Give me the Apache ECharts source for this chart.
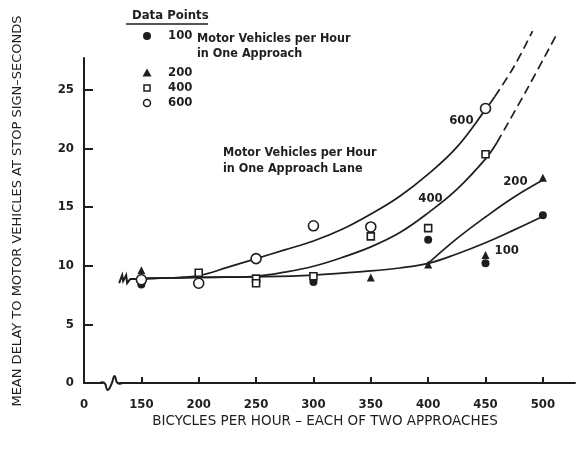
<!DOCTYPE html>
<html><head><meta charset="utf-8">
<script src="https://cdn.jsdelivr.net/npm/echarts@6/dist/echarts.min.js"></script>
<style>html,body{margin:0;padding:0;background:#fff}#c{width:578px;height:460px}</style>
</head><body><div id="c"></div>
<script>
// ---- data ----
const xTickValues = [150, 200, 250, 300, 350, 400, 450, 500];
const xLabelValues = [100, 150, 200, 250, 300, 350, 400, 450, 500]; // 100 is the broken-axis origin labelled "0"
const yTickValues = [0, 5, 10, 15, 20, 25];

const pts100 = [[150, 8.4], [300, 8.6], [400, 12.2], [450, 10.2], [500, 14.3]];
const pts200 = [[150, 9.6], [350, 9.0], [400, 10.1], [450, 10.9], [500, 17.5]];
const pts400 = [[200, 9.4], [250, 8.9], [250, 8.5], [300, 9.1], [350, 12.5], [400, 13.2], [450, 19.5]];
const pts600 = [[150, 8.8], [200, 8.5], [250, 10.6], [300, 13.4], [350, 13.3], [450, 23.4]];

const curve600X = [140, 150, 175, 200, 225, 250, 275, 300, 325, 350, 375, 400, 425, 450, 458];
const curve600Y = [8.85, 8.9, 8.95, 9.15, 9.85, 10.6, 11.35, 12.1, 13.1, 14.4, 15.9, 17.8, 20.1, 23.3, 24.4];
const dash600X = [458, 475, 491];
const dash600Y = [24.4, 27.0, 30.0];

const curve400X = [140, 150, 175, 200, 225, 250, 275, 300, 325, 350, 375, 400, 425, 450, 460];
const curve400Y = [8.85, 8.9, 8.95, 9.0, 9.02, 9.1, 9.45, 9.95, 10.7, 11.6, 12.8, 14.5, 16.5, 19.1, 20.5];
const dash400X = [460, 486, 513];
const dash400Y = [20.5, 25.0, 29.9];

const curve100X = [140, 150, 175, 200, 250, 300, 350, 375, 400, 425, 450, 475, 502];
const curve100Y = [8.85, 8.9, 8.95, 9.0, 9.05, 9.2, 9.55, 9.8, 10.2, 11.0, 11.95, 13.05, 14.3];

const curve200X = [400, 425, 450, 475, 502];
const curve200Y = [10.2, 12.3, 14.15, 15.85, 17.4];

const curveLabelNames = ['600', '400', '200', '100'];
const curveLabelX = [429, 402, 476, 468.5];
const curveLabelY = [22.35, 15.7, 17.15, 11.26];

const legendRows = ['100', '200', '400', '600'];

// ---- styles ----
const INK = '#1e1e1e';
const FONT = "'DejaVu Sans Condensed','DejaVu Sans',sans-serif";
const TFONT = "'DejaVu Sans',sans-serif";

const zip = (xs, ys) => xs.map((x, i) => [x, ys[i]]);

const chart = echarts.init(document.getElementById('c'), null, {renderer: 'canvas'});

function curve(xs, ys, dashed) {
  return {
    type: 'line', data: zip(xs, ys), smooth: 0.4, symbol: 'none', clip: false, silent: true, z: 2,
    lineStyle: {color: INK, width: 1.7, type: dashed ? [9, 5] : 'solid'}
  };
}
function pts(data, symbol, size, filled) {
  return {
    type: 'scatter', data: data, symbol: symbol, symbolSize: size, z: 5, silent: true,
    itemStyle: filled ? {color: INK, opacity: 1} : {color: '#fff', borderColor: INK, borderWidth: 1.6, opacity: 1}
  };
}

const option = {
  backgroundColor: '#fff',
  animation: false,
  grid: {left: 84, right: 3, top: 58, bottom: 77, containLabel: false, outerBoundsMode: 'none'},
  xAxis: {
    type: 'value', min: 100, max: 528,
    axisLine: {show: true, onZero: false, lineStyle: {color: INK, width: 2}},
    axisTick: {show: true, inside: true, length: 6, customValues: xTickValues, lineStyle: {color: INK, width: 2}},
    axisLabel: {customValues: xLabelValues, formatter: v => (v === 100 ? '0' : String(v)),
      color: INK, fontFamily: FONT, fontSize: 13, fontWeight: 'bold', margin: 15},
    splitLine: {show: false}
  },
  yAxis: {
    type: 'value', min: 0, max: 27.7,
    axisLine: {show: true, lineStyle: {color: INK, width: 2}},
    axisTick: {show: true, inside: true, length: 9, customValues: yTickValues, lineStyle: {color: INK, width: 2}},
    axisLabel: {customValues: yTickValues, color: INK, fontFamily: FONT, fontSize: 13, fontWeight: 'bold', margin: 10},
    splitLine: {show: false}
  },
  series: [
    curve(curve600X, curve600Y, false),
    curve(dash600X, dash600Y, true),
    curve(curve400X, curve400Y, false),
    curve(dash400X, dash400Y, true),
    curve(curve100X, curve100Y, false),
    curve(curve200X, curve200Y, false),
    pts(pts100, 'circle', 8, true),
    pts(pts200, 'triangle', 8, true),
    pts(pts400, 'rect', 7, false),
    pts(pts600, 'circle', 10, false),
    {
      type: 'scatter', symbolSize: 0, silent: true, z: 6,
      itemStyle: {opacity: 1},
      data: curveLabelNames.map((n, i) => ({name: n, value: [curveLabelX[i], curveLabelY[i]]})),
      label: {show: true, position: 'inside', formatter: p => p.name, color: INK, opacity: 1,
        fontFamily: FONT, fontSize: 13, fontWeight: 'bold'}
    }
  ]
};
chart.setOption(option);

// ---- annotations, legend, titles, axis breaks ----
const g = [];
g.push({type: 'text', x: 18, y: 211, rotation: Math.PI / 2, silent: true,
  style: {text: 'MEAN DELAY TO MOTOR VEHICLES AT STOP SIGN–SECONDS', fill: INK, font: '13px ' + TFONT,
    align: 'center', verticalAlign: 'middle'}});
g.push({type: 'text', x: 325, y: 421, silent: true,
  style: {text: 'BICYCLES PER HOUR – EACH OF TWO APPROACHES', fill: INK, font: '13.5px ' + TFONT,
    align: 'center', verticalAlign: 'middle'}});
g.push({type: 'text', x: 223, y: 161, silent: true,
  style: {text: 'Motor Vehicles per Hour\nin One Approach Lane', fill: INK, font: 'bold 12.5px ' + FONT,
    lineHeight: 16, align: 'left', verticalAlign: 'middle'}});
g.push({type: 'text', x: 132, y: 16, silent: true,
  style: {text: 'Data Points', fill: INK, font: 'bold 13px ' + FONT, align: 'left', verticalAlign: 'middle'}});
g.push({type: 'line', silent: true, shape: {x1: 126, y1: 24, x2: 208, y2: 24}, style: {stroke: INK, lineWidth: 1.5}});
const rowY = [36, 73, 88, 103];
g.push({type: 'circle', silent: true, shape: {cx: 147, cy: rowY[0], r: 4}, style: {fill: INK}});
g.push({type: 'polygon', silent: true, shape: {points: [[147, rowY[1] - 4.5], [151.5, rowY[1] + 3.5], [142.5, rowY[1] + 3.5]]}, style: {fill: INK}});
g.push({type: 'rect', silent: true, shape: {x: 144, y: rowY[2] - 3, width: 6, height: 6}, style: {fill: '#fff', stroke: INK, lineWidth: 1.5}});
g.push({type: 'circle', silent: true, shape: {cx: 147, cy: rowY[3], r: 3.5}, style: {fill: '#fff', stroke: INK, lineWidth: 1.5}});
legendRows.forEach((t, i) => g.push({type: 'text', x: 168, y: rowY[i], silent: true,
  style: {text: t, fill: INK, font: 'bold 13px ' + FONT, align: 'left', verticalAlign: 'middle'}}));
g.push({type: 'text', x: 197, y: 46.5, silent: true,
  style: {text: 'Motor Vehicles per Hour\nin One Approach', fill: INK, font: 'bold 12.5px ' + FONT,
    lineHeight: 15, align: 'left', verticalAlign: 'middle'}});

// axis break squiggle on x axis and break mark on the curves
const pb = chart.convertToPixel({gridIndex: 0}, [124, 0]);
g.push({type: 'rect', silent: true, shape: {x: pb[0] - 8, y: pb[1] - 3, width: 15, height: 6}, style: {fill: '#fff'}, z: 50});
g.push({type: 'polyline', silent: true, z: 51, shape: {smooth: 0.5, points: [
  [pb[0] - 12, pb[1]], [pb[0] - 7, pb[1]], [pb[0] - 4, pb[1] + 7], [pb[0], pb[1] + 1], [pb[0] + 3, pb[1] - 7], [pb[0] + 6, pb[1]], [pb[0] + 11, pb[1]]
]}, style: {stroke: INK, lineWidth: 2, fill: null}});
const pc = chart.convertToPixel({gridIndex: 0}, [135, 8.85]);
g.push({type: 'polyline', silent: true, z: 51, shape: {points: [
  [pc[0] - 5, pc[1] + 4], [pc[0] - 2, pc[1] - 4], [pc[0] - 1, pc[1] + 2], [pc[0] + 2, pc[1] - 4], [pc[0] + 3, pc[1] + 4], [pc[0] + 6, pc[1]]
]}, style: {stroke: INK, lineWidth: 2, fill: null}});

chart.setOption({graphic: {elements: g}});
</script>
</body></html>
